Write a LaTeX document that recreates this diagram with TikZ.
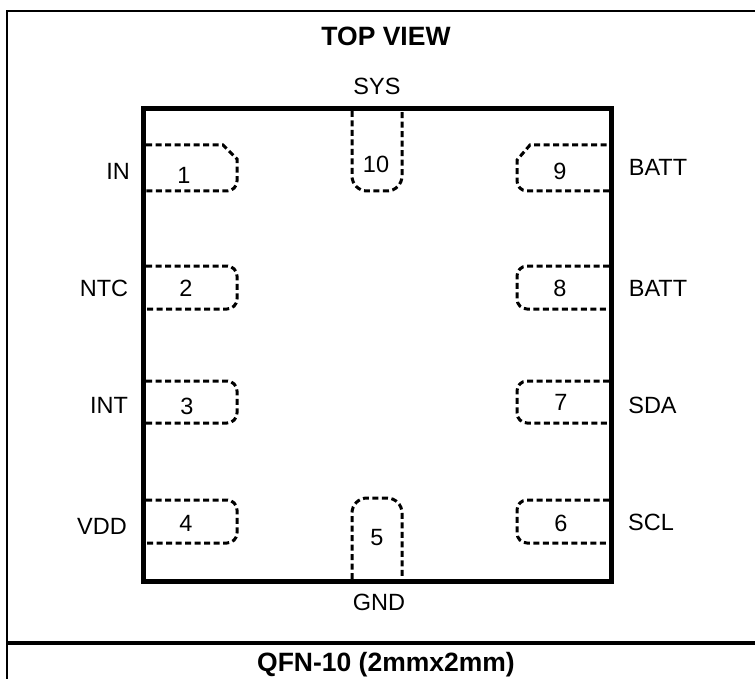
\documentclass[tikz,border=0pt]{standalone}
\usepackage{fontspec}
\setmainfont{Liberation Sans}
\tikzset{
  pad/.style={line width=3pt,dash pattern=on 6pt off 3.5pt,black},
  lbl/.style={inner sep=0pt,font=\fontsize{23.5}{26}\selectfont},
  ttl/.style={inner sep=0pt,font=\fontsize{26.5}{30}\selectfont\bfseries}
}
\begin{document}
\begin{tikzpicture}[x=1pt,y=-1pt]
\useasboundingbox (0,0) rectangle (755,679);
% outer frame
\draw[line width=2.5pt] (7,680) -- (7,11) -- (756,11);
\draw[line width=4.3pt] (7,643) -- (756,643);
% left pads
\draw[pad] (146,145) -- (223,145) -- (237,159) [rounded corners=10pt] -- (237,191) -- (146,191);
\foreach \t/\b in {266/309,381/423,500/543}
  \draw[pad,rounded corners=10pt] (146,\t) -- (237,\t) -- (237,\b) -- (146,\b);
% right pads
\draw[pad] (609,191) [rounded corners=10pt] -- (517,191) [sharp corners] -- (517,160) -- (530,145) -- (609,145);
\foreach \t/\b in {266/309,381/423,500/543}
  \draw[pad,rounded corners=10pt] (609,\t) -- (517,\t) -- (517,\b) -- (609,\b);
% top and bottom pads
\draw[pad,rounded corners=15pt] (352,111) -- (352,191) -- (402,191) -- (402,111);
\draw[pad,rounded corners=15pt] (352,579) -- (352,498) -- (402,498) -- (402,579);
% package body
\draw[line width=5pt] (143.5,108.5) rectangle (611.5,581.5);
% titles
\node[ttl] (title) at (386,36) {TOP VIEW};
\node[ttl] (pkg) at (386,665) {QFN-10 (2mmx2mm)};
% pin names
\node[lbl] (nSYS) at (377,86) {SYS};
\node[lbl] (nGND) at (379,602) {GND};
\node[lbl] (nIN) at (118,171) {IN};
\node[lbl] (nNTC) at (104,288) {NTC};
\node[lbl] (nINT) at (109,405.5) {INT};
\node[lbl] (nVDD) at (102,526.5) {VDD};
\node[lbl] (nBa) at (658,167) {BATT};
\node[lbl] (nBb) at (658,288) {BATT};
\node[lbl] (nSDA) at (652.5,405.5) {SDA};
\node[lbl] (nSCL) at (651,522.5) {SCL};
% pin numbers
\node[lbl] (p1) at (184,175) {1};
\node[lbl] (p2) at (186,288) {2};
\node[lbl] (p3) at (187,406) {3};
\node[lbl] (p4) at (186,523) {4};
\node[lbl] (p5) at (377,538) {5};
\node[lbl] (p6) at (561,523) {6};
\node[lbl] (p7) at (561,402) {7};
\node[lbl] (p8) at (560,288) {8};
\node[lbl] (p9) at (560,171) {9};
\node[lbl] (p10) at (376,164) {10};
\end{tikzpicture}
\end{document}
